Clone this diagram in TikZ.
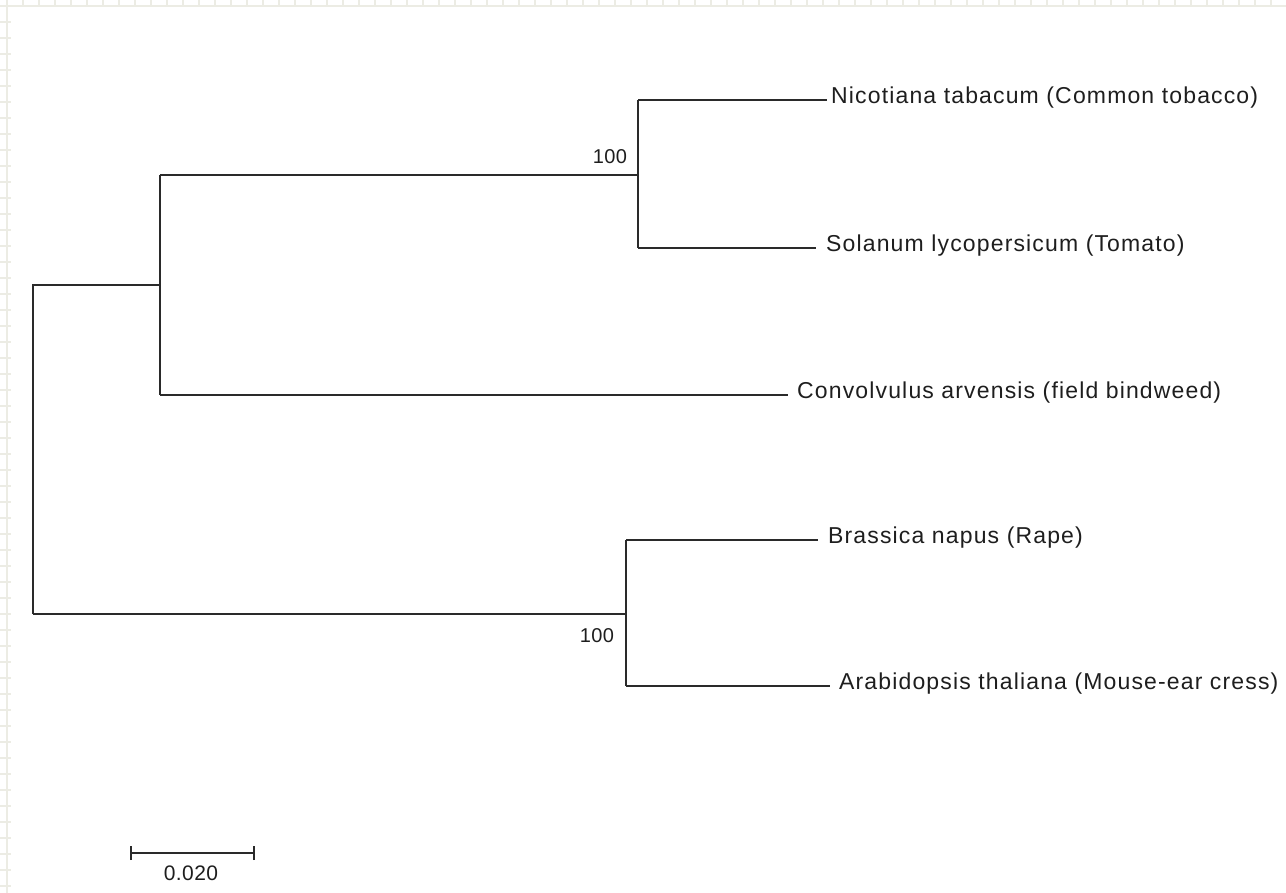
\documentclass[tikz,border=0pt]{standalone}
\usepackage{fontspec}
\usetikzlibrary{calc}
\setmainfont{Liberation Sans}
\newfontfamily\labfont{Liberation Sans}[LetterSpace=5]
\newfontfamily\numfont{Liberation Sans}[LetterSpace=2]
\definecolor{gridc}{HTML}{ECECE4}
\definecolor{branch}{HTML}{2A2A2A}
\definecolor{txt}{HTML}{1E1E1E}
\begin{document}
\begin{tikzpicture}[x=1pt,y=-1pt,
  br/.style={draw=branch,line width=1.6pt},
  leaf/.style={anchor=west,inner sep=0pt,text=txt,font=\labfont\fontsize{23}{24}\selectfont},
  boot/.style={inner sep=0pt,text=txt,font=\numfont\fontsize{20}{22}\selectfont},
  gridl/.style={draw=gridc,line width=1.8pt}]
\useasboundingbox (0,0) rectangle (1286,893);
% faint frame with tick marks
\draw[gridl] (0,6) -- (1286,6);
\draw[gridl] (7,0) -- (7,893);
\foreach \i in {23,39,...,1286} \draw[gridl] (\i,0) -- (\i,7);
\foreach \j in {22,38,...,893} \draw[gridl] (0,\j) -- (11,\j);
% internal nodes
\coordinate (root) at (33,285);
\coordinate (rootb) at (33,614);
\coordinate (nA) at (160,285);
\coordinate (nAt) at (160,175);
\coordinate (nAb) at (160,395);
\coordinate (nS) at (638,175);
\coordinate (nSt) at (638,100);
\coordinate (nSb) at (638,248);
\coordinate (nB) at (626,614);
\coordinate (nBt) at (626,540);
\coordinate (nBb) at (626,686);
% leaves
\node[leaf] (nic) at (831,98) {Nicotiana tabacum (Common tobacco)};
\node[leaf] (sol) at (826,246) {Solanum lycopersicum (Tomato)};
\node[leaf] (con) at (797,393) {Convolvulus arvensis (field bindweed)};
\node[leaf] (bra) at (828,538) {Brassica napus (Rape)};
\node[leaf] (ara) at (839,684) {Arabidopsis thaliana (Mouse-ear cress)};
% branches
\draw[br] (rootb) -- (root) -- (nA);
\draw[br] (nAt) -- (nAb);
\draw[br] (nAt) -- (nS);
\draw[br] (nSt) -- (nSt -| {$(nic.west)+(-4pt,0)$});
\draw[br] (nSt) -- (nSb);
\draw[br] (nSb) -- (nSb -| {$(sol.west)+(-10pt,0)$});
\draw[br] (nAb) -- (nAb -| {$(con.west)+(-9pt,0)$});
\draw[br] (rootb) -- (nB);
\draw[br] (nBt) -- (nBb);
\draw[br] (nBt) -- (nBt -| {$(bra.west)+(-10pt,0)$});
\draw[br] (nBb) -- (nBb -| {$(ara.west)+(-9pt,0)$});
% bootstrap values
\node[boot] (b1) at (610,157) {100};
\node[boot] (b2) at (597,636) {100};
% scale bar
\coordinate (s1) at (131,853);
\coordinate (s2) at (254,853);
\draw[br] (s1) -- (s2);
\draw[br] ([yshift=-7pt]s1) -- ([yshift=7pt]s1);
\draw[br] ([yshift=-7pt]s2) -- ([yshift=7pt]s2);
\node[boot,font=\numfont\fontsize{21}{22}\selectfont] (sc) at (191,873) {0.020};
\end{tikzpicture}
\end{document}
